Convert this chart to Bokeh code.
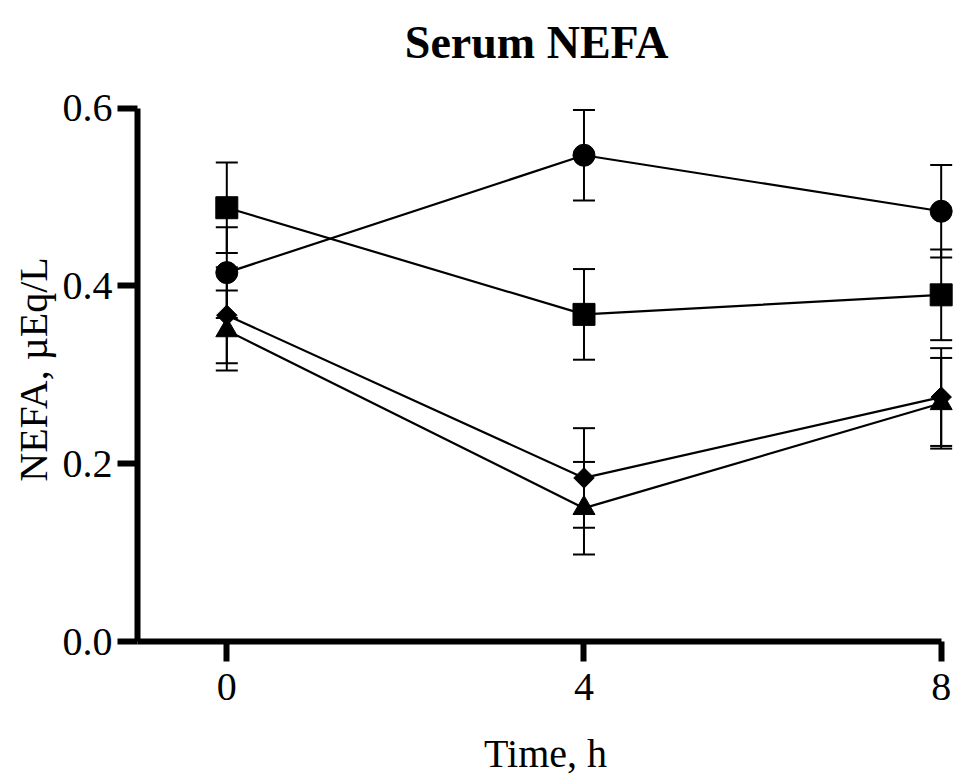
from bokeh.plotting import figure
from bokeh.layouts import column
from bokeh.models import ColumnDataSource, Whisker, TeeHead, FixedTicker, PrintfTickFormatter, Range1d, Label
from bokeh.embed import file_html
from bokeh.resources import INLINE

# Data
time_h = [0, 4, 8]
circle_mean = [0.415, 0.547, 0.484]
circle_sem = [0.051, 0.051, 0.052]
square_mean = [0.488, 0.368, 0.390]
square_sem = [0.051, 0.051, 0.051]
diamond_mean = [0.367, 0.184, 0.275]
diamond_sem = [0.054, 0.056, 0.055]
triangle_mean = [0.350, 0.150, 0.268]
triangle_sem = [0.045, 0.052, 0.051]
x_ticks = [0, 4, 8]
y_ticks = [0.0, 0.2, 0.4, 0.6]
title_text = "Serum NEFA"
x_title = "Time, h"
y_title = "NEFA, µEq/L"

FONT = "Liberation Serif"

x_rng = Range1d(-1, 8.138)

# Title strip (its frame is aligned with the main plot's frame by the column layout)
t = figure(width=953, height=80, output_backend="svg", toolbar_location=None,
           x_range=x_rng, y_range=Range1d(0, 80),
           x_axis_type=None, y_axis_type=None,
           min_border_left=137, min_border_right=0, min_border_top=0, min_border_bottom=0)
t.outline_line_color = None
t.grid.visible = False
t.add_layout(Label(x=3.47, y=38, text=title_text, text_align="center",
                   text_baseline="alphabetic", text_font=FONT, text_font_size="46px",
                   text_font_style="bold", text_color="black"))

# Main plot
p = figure(width=953, height=702, output_backend="svg", toolbar_location=None,
           x_range=x_rng, y_range=Range1d(0, 0.612),
           min_border_left=137, min_border_right=0, min_border_top=17, min_border_bottom=141)
p.outline_line_color = None
p.grid.visible = False
p.background_fill_color = "white"
p.border_fill_color = "white"

series = [
    (circle_mean, circle_sem, "circle", 22, 0),
    (square_mean, square_sem, "square", 22, 0),
    (diamond_mean, diamond_sem, "square", 14.5, 0.785398),
    (triangle_mean, triangle_sem, "triangle", 22, 0),
]

for mean, sem, marker, size, angle in series:
    src = ColumnDataSource(dict(
        x=time_h, y=mean,
        upper=[m + s for m, s in zip(mean, sem)],
        lower=[m - s for m, s in zip(mean, sem)],
    ))
    w = Whisker(source=src, base="x", upper="upper", lower="lower",
                line_width=2, line_color="black",
                upper_head=TeeHead(size=22, line_width=2, line_color="black"),
                lower_head=TeeHead(size=22, line_width=2, line_color="black"),
                level="underlay")
    p.add_layout(w)
    p.line("x", "y", source=src, line_width=2.2, line_color="black")
    p.scatter("x", "y", source=src, marker=marker, size=size, angle=angle,
              fill_color="black", line_color="black", line_width=1)

for ax in (p.xaxis[0], p.yaxis[0]):
    ax.axis_line_width = 6
    ax.major_tick_line_width = 6
    ax.major_tick_out = 20
    ax.major_tick_in = 0
    ax.minor_tick_line_color = None
    ax.major_label_text_font = FONT
    ax.major_label_text_font_size = "40px"
    ax.major_label_text_color = "black"
    ax.axis_label_text_font = FONT
    ax.axis_label_text_font_size = "40px"
    ax.axis_label_text_font_style = "normal"
    ax.axis_label_text_color = "black"

p.xaxis.ticker = FixedTicker(ticks=x_ticks)
p.xaxis.bounds = (-1, 8)
p.xaxis.axis_label = x_title
p.xaxis.major_label_standoff = 12
p.xaxis.axis_label_standoff = 28

p.yaxis.ticker = FixedTicker(ticks=y_ticks)
p.yaxis.bounds = (0, 0.6)
p.yaxis.formatter = PrintfTickFormatter(format="%.1f")
p.yaxis.axis_label = y_title
p.yaxis.major_label_standoff = 5
p.yaxis.axis_label_standoff = 4

layout = column(t, p, spacing=0)
open("out.html", "w").write(file_html(layout, INLINE))
